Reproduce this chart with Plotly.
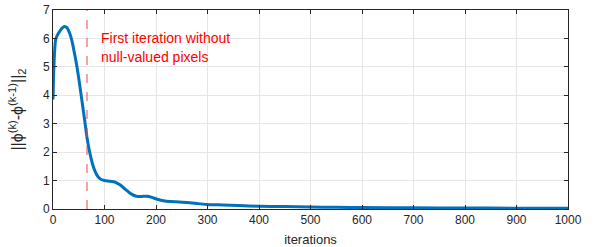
import plotly.graph_objects as go

iterations = [0, 1, 3, 5, 8, 12, 17, 22, 27, 32, 37, 42, 47, 52, 57, 62, 67, 73, 79, 85, 91, 100, 110, 120, 130, 140, 150, 162, 172, 182, 192, 201, 214, 227, 245, 260, 280, 298, 330, 360, 400, 450, 500, 550, 600, 700, 800, 900, 1000]
norm_diff = [3.85, 4.6, 5.5, 5.95, 6.1, 6.22, 6.35, 6.42, 6.38, 6.2, 5.9, 5.45, 4.95, 4.35, 3.7, 3.05, 2.4, 1.85, 1.45, 1.2, 1.07, 1.0, 0.98, 0.95, 0.85, 0.7, 0.55, 0.45, 0.44, 0.45, 0.41, 0.35, 0.29, 0.26, 0.25, 0.23, 0.19, 0.16, 0.14, 0.12, 0.1, 0.085, 0.07, 0.06, 0.05, 0.04, 0.035, 0.03, 0.03]
first_full_iter = 66
annotation_lines = ["First iteration without", "null-valued pixels"]
x_ticks = [0, 100, 200, 300, 400, 500, 600, 700, 800, 900, 1000]
y_ticks = [0, 1, 2, 3, 4, 5, 6, 7]

FONT = "Liberation Sans, Arial"
fig = go.Figure()
fig.add_trace(go.Scatter(x=iterations, y=norm_diff, mode="lines",
                         line=dict(color="#0072BD", width=3, shape="spline", smoothing=0.6),
                         showlegend=False))
fig.add_shape(type="line", x0=first_full_iter, x1=first_full_iter, y0=0, y1=7,
              xref="x", yref="y", line=dict(color="#E8474A", width=1, dash="dash"))
for i, line in enumerate(annotation_lines):
    fig.add_annotation(x=first_full_iter + 24, y=6.03 - i * 0.67, xref="x", yref="y",
                       text=line, showarrow=False, xanchor="left", yanchor="middle",
                       align="left", font=dict(family=FONT, size=14, color="#FF0000"))

axis_common = dict(showline=True, linecolor="#262626", linewidth=1, mirror="ticks",
                   ticks="inside", ticklen=4, tickcolor="#262626",
                   showgrid=True, gridcolor="#E6E6E6", gridwidth=1, zeroline=False,
                   automargin=False, ticklabeloverflow="allow",
                   tickfont=dict(family=FONT, size=12, color="#262626"))
fig.update_xaxes(range=[0, 1000], tickvals=x_ticks, **axis_common,
                 title=dict(text="iterations",
                            font=dict(family=FONT, size=13, color="#262626")))
fig.update_yaxes(range=[0, 7], tickvals=y_ticks, **axis_common,
                 title=dict(text="||ϕ<sup>(k)</sup>-ϕ<sup>(k-1)</sup>||<sub>2</sub>",
                            font=dict(family=FONT, size=16, color="#262626")))
fig.update_layout(width=598, height=247, margin=dict(l=53, r=30, t=10, b=38),
                  plot_bgcolor="white", paper_bgcolor="white")
fig.write_html("out.html", config={"displayModeBar": False},
               post_script="document.body.style.margin='0';document.body.style.overflow='hidden';")
